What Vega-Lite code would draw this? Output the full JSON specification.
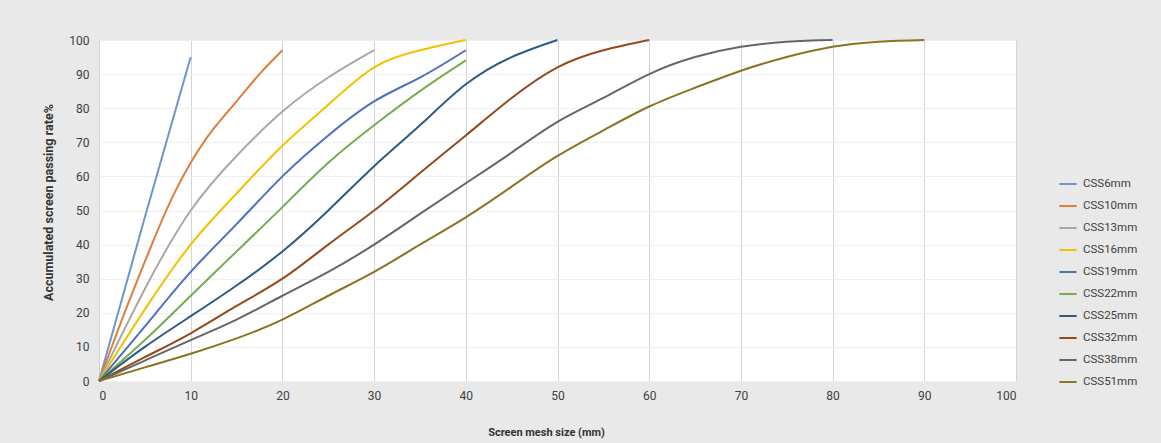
{
  "$schema": "https://vega.github.io/schema/vega-lite/v6.json",
  "width": 917,
  "height": 341,
  "autosize": {"type": "none"},
  "padding": {"left": 99, "top": 40, "right": 145, "bottom": 62},
  "background": "#e9e9e9",
  "config": {
    "font": "Roboto",
    "view": {"fill": "#ffffff", "stroke": "#dcdcdc", "strokeWidth": 1}
  },
  "data": {
    "values": [
      {"s": "CSS6mm", "x": 0, "y": 0}, {"s": "CSS6mm", "x": 5, "y": 48}, {"s": "CSS6mm", "x": 10, "y": 95},
      {"s": "CSS10mm", "x": 0, "y": 0}, {"s": "CSS10mm", "x": 2.5, "y": 18}, {"s": "CSS10mm", "x": 5, "y": 35}, {"s": "CSS10mm", "x": 7.5, "y": 51}, {"s": "CSS10mm", "x": 10, "y": 64}, {"s": "CSS10mm", "x": 12.5, "y": 74}, {"s": "CSS10mm", "x": 15, "y": 82}, {"s": "CSS10mm", "x": 17.5, "y": 90}, {"s": "CSS10mm", "x": 20, "y": 97},
      {"s": "CSS13mm", "x": 0, "y": 0}, {"s": "CSS13mm", "x": 5, "y": 27}, {"s": "CSS13mm", "x": 10, "y": 50}, {"s": "CSS13mm", "x": 15, "y": 66}, {"s": "CSS13mm", "x": 20, "y": 79}, {"s": "CSS13mm", "x": 25, "y": 89}, {"s": "CSS13mm", "x": 30, "y": 97},
      {"s": "CSS16mm", "x": 0, "y": 0}, {"s": "CSS16mm", "x": 5, "y": 21}, {"s": "CSS16mm", "x": 10, "y": 40}, {"s": "CSS16mm", "x": 15, "y": 55}, {"s": "CSS16mm", "x": 20, "y": 69}, {"s": "CSS16mm", "x": 25, "y": 81}, {"s": "CSS16mm", "x": 30, "y": 92}, {"s": "CSS16mm", "x": 35, "y": 97}, {"s": "CSS16mm", "x": 40, "y": 100},
      {"s": "CSS19mm", "x": 0, "y": 0}, {"s": "CSS19mm", "x": 5, "y": 16}, {"s": "CSS19mm", "x": 10, "y": 32}, {"s": "CSS19mm", "x": 15, "y": 46}, {"s": "CSS19mm", "x": 20, "y": 60}, {"s": "CSS19mm", "x": 25, "y": 72}, {"s": "CSS19mm", "x": 30, "y": 82}, {"s": "CSS19mm", "x": 35, "y": 89}, {"s": "CSS19mm", "x": 40, "y": 97},
      {"s": "CSS22mm", "x": 0, "y": 0}, {"s": "CSS22mm", "x": 5, "y": 12}, {"s": "CSS22mm", "x": 10, "y": 25}, {"s": "CSS22mm", "x": 15, "y": 38}, {"s": "CSS22mm", "x": 20, "y": 51}, {"s": "CSS22mm", "x": 25, "y": 64}, {"s": "CSS22mm", "x": 30, "y": 75}, {"s": "CSS22mm", "x": 35, "y": 85}, {"s": "CSS22mm", "x": 40, "y": 94},
      {"s": "CSS25mm", "x": 0, "y": 0}, {"s": "CSS25mm", "x": 5, "y": 10}, {"s": "CSS25mm", "x": 10, "y": 19}, {"s": "CSS25mm", "x": 15, "y": 28}, {"s": "CSS25mm", "x": 20, "y": 38}, {"s": "CSS25mm", "x": 25, "y": 50}, {"s": "CSS25mm", "x": 30, "y": 63}, {"s": "CSS25mm", "x": 35, "y": 75}, {"s": "CSS25mm", "x": 40, "y": 87}, {"s": "CSS25mm", "x": 45, "y": 95}, {"s": "CSS25mm", "x": 50, "y": 100},
      {"s": "CSS32mm", "x": 0, "y": 0}, {"s": "CSS32mm", "x": 5, "y": 7}, {"s": "CSS32mm", "x": 10, "y": 14}, {"s": "CSS32mm", "x": 15, "y": 22}, {"s": "CSS32mm", "x": 20, "y": 30}, {"s": "CSS32mm", "x": 25, "y": 40}, {"s": "CSS32mm", "x": 30, "y": 50}, {"s": "CSS32mm", "x": 35, "y": 61}, {"s": "CSS32mm", "x": 40, "y": 72}, {"s": "CSS32mm", "x": 45, "y": 83}, {"s": "CSS32mm", "x": 50, "y": 92}, {"s": "CSS32mm", "x": 55, "y": 97}, {"s": "CSS32mm", "x": 60, "y": 100},
      {"s": "CSS38mm", "x": 0, "y": 0}, {"s": "CSS38mm", "x": 5, "y": 6}, {"s": "CSS38mm", "x": 10, "y": 12}, {"s": "CSS38mm", "x": 15, "y": 18}, {"s": "CSS38mm", "x": 20, "y": 25}, {"s": "CSS38mm", "x": 25, "y": 32}, {"s": "CSS38mm", "x": 30, "y": 40}, {"s": "CSS38mm", "x": 35, "y": 49}, {"s": "CSS38mm", "x": 40, "y": 58}, {"s": "CSS38mm", "x": 45, "y": 67}, {"s": "CSS38mm", "x": 50, "y": 76}, {"s": "CSS38mm", "x": 55, "y": 83}, {"s": "CSS38mm", "x": 60, "y": 90}, {"s": "CSS38mm", "x": 65, "y": 95}, {"s": "CSS38mm", "x": 70, "y": 98}, {"s": "CSS38mm", "x": 75, "y": 99.5}, {"s": "CSS38mm", "x": 80, "y": 100},
      {"s": "CSS51mm", "x": 0, "y": 0}, {"s": "CSS51mm", "x": 5, "y": 4}, {"s": "CSS51mm", "x": 10, "y": 8}, {"s": "CSS51mm", "x": 15, "y": 12.5}, {"s": "CSS51mm", "x": 20, "y": 18}, {"s": "CSS51mm", "x": 25, "y": 25}, {"s": "CSS51mm", "x": 30, "y": 32}, {"s": "CSS51mm", "x": 35, "y": 40}, {"s": "CSS51mm", "x": 40, "y": 48}, {"s": "CSS51mm", "x": 45, "y": 57}, {"s": "CSS51mm", "x": 50, "y": 66}, {"s": "CSS51mm", "x": 55, "y": 73.5}, {"s": "CSS51mm", "x": 60, "y": 80.5}, {"s": "CSS51mm", "x": 65, "y": 86}, {"s": "CSS51mm", "x": 70, "y": 91}, {"s": "CSS51mm", "x": 75, "y": 95}, {"s": "CSS51mm", "x": 80, "y": 98}, {"s": "CSS51mm", "x": 85, "y": 99.5}, {"s": "CSS51mm", "x": 90, "y": 100}
    ]
  },
  "mark": {"type": "line", "strokeWidth": 2, "interpolate": "natural"},
  "encoding": {
    "x": {
      "field": "x", "type": "quantitative",
      "scale": {"domain": [0, 100], "nice": false},
      "axis": {
        "title": "Screen mesh size (mm)", "values": [0, 10, 20, 30, 40, 50, 60, 70, 80, 90, 100],
        "domain": false, "ticks": false, "labelPadding": 9, "labelFontSize": 12, "labelColor": "#404040",
        "titleFontSize": 11, "titleFontWeight": "bold", "titleColor": "#333333",
        "titlePadding": 25, "titleX": 447, "gridColor": "#d4d4d4", "gridWidth": 1
      }
    },
    "y": {
      "field": "y", "type": "quantitative",
      "scale": {"domain": [0, 100], "nice": false},
      "axis": {
        "title": "Accumulated screen passing rate%", "values": [0, 10, 20, 30, 40, 50, 60, 70, 80, 90, 100],
        "domain": false, "ticks": false, "labelPadding": 10, "labelFontSize": 12, "labelColor": "#404040",
        "titleFontSize": 12.5, "titleFontWeight": "bold", "titleColor": "#333333", "titlePadding": 13,
        "titleY": 162,
        "gridColor": "#f0f0f0", "gridWidth": 1
      }
    },
    "color": {
      "field": "s", "type": "nominal",
      "scale": {
        "domain": ["CSS6mm", "CSS10mm", "CSS13mm", "CSS16mm", "CSS19mm", "CSS22mm", "CSS25mm", "CSS32mm", "CSS38mm", "CSS51mm"],
        "range": ["#6f96c9", "#e07d3d", "#a8a8a8", "#f2c200", "#4f6fbf", "#76ad4f", "#2e5a86", "#944a1c", "#666666", "#8c7320"]
      },
      "legend": {
        "title": null, "orient": "none", "legendX": 959, "legendY": 134,
        "symbolType": "stroke", "symbolStrokeWidth": 2, "symbolSize": 300,
        "labelFontSize": 11.5, "labelColor": "#404040", "rowPadding": 6, "labelOffset": 5
      }
    }
  }
}
